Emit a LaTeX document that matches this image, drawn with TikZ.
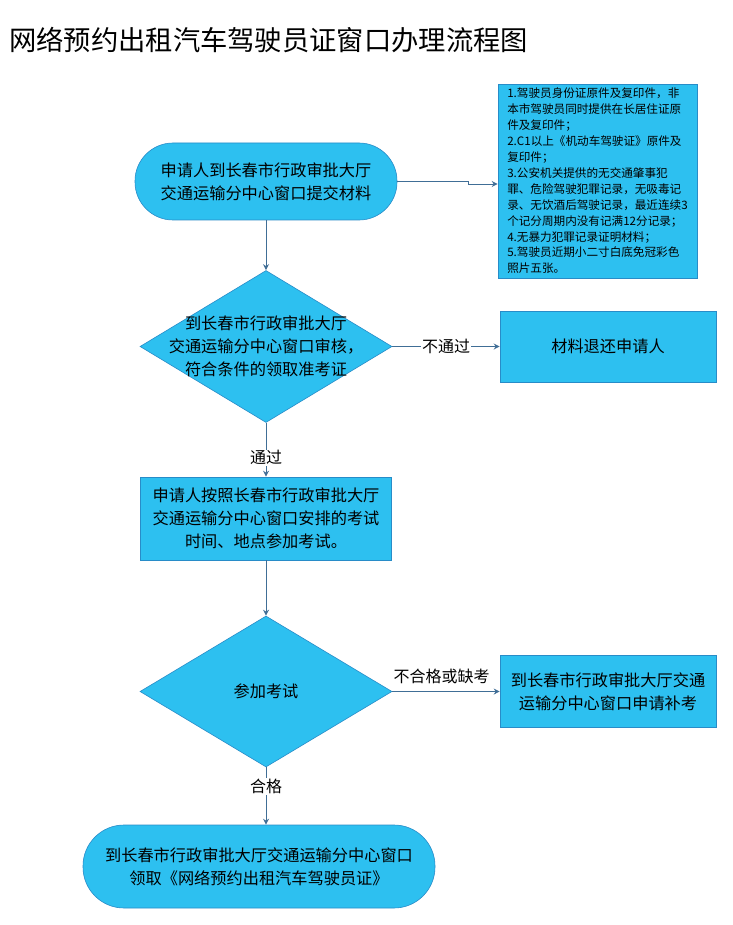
\documentclass[tikz,border=0pt]{standalone}
\usepackage{fontspec}
\setmainfont{Noto Sans CJK SC}
\usetikzlibrary{shapes.geometric,arrows.meta,calc}
\definecolor{boxfill}{RGB}{45,192,240}
\definecolor{boxline}{RGB}{40,140,200}
\definecolor{linecol}{RGB}{64,110,150}
\begin{document}
\begin{tikzpicture}[x=1pt,y=-1pt,
  body/.style={font=\fontsize{16.2}{23}\selectfont, align=center, text=black},
  stadium/.style={draw=boxline, fill=boxfill, line width=0.6pt, rounded corners=#1, inner sep=0pt, body},
  boxnode/.style={draw=boxline, fill=boxfill, line width=0.6pt, inner sep=0pt, body},
  dia/.style={diamond, draw=boxline, fill=boxfill, line width=0.6pt, inner sep=0pt, minimum width=252pt, minimum height=152pt},
  conn/.style={draw=linecol, line width=0.9pt, -{Stealth[length=6pt,width=6pt]}},
  lab/.style={font=\fontsize{16}{18}\selectfont, fill=white, inner sep=1pt, text=black}]
\useasboundingbox (0,0) rectangle (732,925);
\fill[white] (0,0) rectangle (732,925);

\node[anchor=west, font=\fontsize{27.3}{30}\selectfont, inner sep=0pt] (title) at (9,40) {网络预约出租汽车驾驶员证窗口办理流程图};

\node[stadium=38pt, minimum width=262pt, minimum height=77pt] (s1) at (266,181.5)
  {申请人到长春市行政审批大厅\\交通运输分中心窗口提交材料};

\node[boxnode, minimum width=199pt, minimum height=194pt, align=left,
  font=\fontsize{11.6}{15.9}\selectfont] (tb) at (597.5,181)
  {1.驾驶员身份证原件及复印件，非\\本市驾驶员同时提供在长居住证原\\件及复印件；\\2.C1以上《机动车驾驶证》原件及\\复印件；\\3.公安机关提供的无交通肇事犯\\罪、危险驾驶犯罪记录，无吸毒记\\录、无饮酒后驾驶记录，最近连续3\\个记分周期内没有记满12分记录；\\4.无暴力犯罪记录证明材料；\\5.驾驶员近期小二寸白底免冠彩色\\照片五张。};

\node[dia, label={[body]center:{到长春市行政审批大厅\\交通运输分中心窗口审核，\\符合条件的领取准考证}}] (d1) at (266,346.5) {};

\node[boxnode, minimum width=216pt, minimum height=71pt] (b1) at (608,346.5) {材料退还申请人};

\node[boxnode, minimum width=251pt, minimum height=83pt] (b2) at (266,518.5)
  {申请人按照长春市行政审批大厅\\交通运输分中心窗口安排的考试\\时间、地点参加考试。};

\node[dia, minimum height=151pt, label={[body]center:{参加考试}}] (d2) at (266,691.5) {};

\node[boxnode, minimum width=216pt, minimum height=72pt] (b3) at (608,691.5)
  {到长春市行政审批大厅交通\\运输分中心窗口申请补考};

\node[stadium=41pt, minimum width=352pt, minimum height=83pt] (s2) at (259,866.5)
  {到长春市行政审批大厅交通运输分中心窗口\\领取《网络预约出租汽车驾驶员证》};

% connectors
\draw[conn] (s1.east) -- ($(s1.east)+(71,0)$) |- ($(tb.west)+(0,3)$);
\draw[conn] (s1.south) -- (d1.north);
\draw[conn] (d1.east) -- node[lab, midway] (l1) {不通过} (b1.west);
\draw[conn] (d1.south) -- node[lab, pos=0.65] (l2) {通过} (b2.north);
\draw[conn] (b2.south) -- (d2.north);
\draw[conn] (d2.east) -- node[lab, pos=0.46, above=6pt, fill=none] (l3) {不合格或缺考} (b3.west);
\draw[conn] (d2.south) -- node[lab, pos=0.34] (l4) {合格} (d2.south |- s2.north);
\end{tikzpicture}
\end{document}
